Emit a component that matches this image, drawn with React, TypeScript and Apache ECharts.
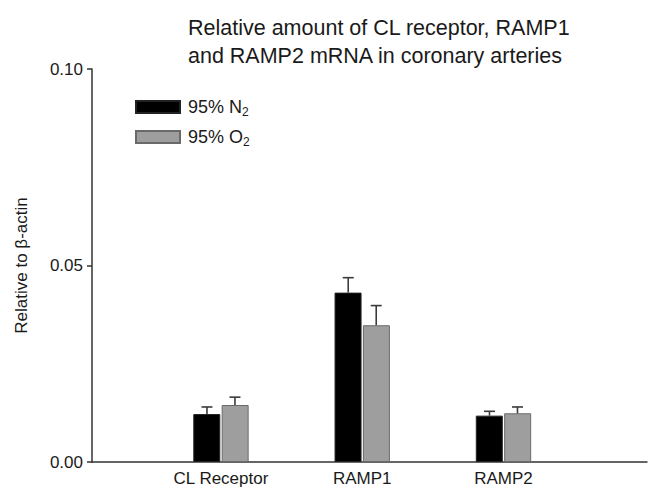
import React, { useEffect, useRef } from "react";
import * as echarts from "echarts";

const categories = ["CL Receptor", "RAMP1", "RAMP2"];
const categoryPositions = [1, 2, 3];
const n2Values = [0.0122, 0.0431, 0.0118];
const n2Errors = [0.0018, 0.0038, 0.0011];
const o2Values = [0.0145, 0.0348, 0.0124];
const o2Errors = [0.002, 0.005, 0.0016];
const yTicks = [0, 0.05, 0.1];
const seriesNames = ["95% N2", "95% O2"];
const titleText = "Relative amount of CL receptor, RAMP1\nand RAMP2 mRNA in coronary arteries";
const yAxisName = "Relative to β-actin";

const FONT = "'Liberation Sans', Arial, sans-serif";

export default function App() {
  const ref = useRef<HTMLDivElement>(null);
  useEffect(() => {
    document.body.style.margin = "0";
    if (!ref.current) return;
    const chart = echarts.init(ref.current, undefined, { renderer: "svg" });

    const errData = (vals: number[], errs: number[]) =>
      vals.map((v, i) => [categoryPositions[i], v, v + errs[i]]);

    const makeErr = (offset: number) => (params: any, api: any) => {
      const x = api.value(0);
      const lo = api.coord([x, api.value(1)]);
      const hi = api.coord([x, api.value(2)]);
      const cx = lo[0] + offset;
      const style = { stroke: "#3a3a3a", lineWidth: 1.6 };
      return {
        type: "group",
        children: [
          { type: "line", shape: { x1: cx, y1: lo[1], x2: cx, y2: hi[1] }, style },
          { type: "line", shape: { x1: cx - 5.5, y1: hi[1], x2: cx + 5.5, y2: hi[1] }, style },
        ],
      };
    };

    const sub = (name: string) => name.replace(/(\d)$/, "{sub|$1}");

    chart.setOption({
      animation: false,
      textStyle: { fontFamily: FONT },
      title: {
        text: titleText,
        left: 183,
        top: 9,
        textStyle: { fontFamily: FONT, fontSize: 21.5, fontWeight: "normal", color: "#1a1a1a", lineHeight: 28 },
      },
      legend: {
        orient: "vertical",
        left: 135,
        top: 96,
        padding: 0,
        itemWidth: 44,
        itemHeight: 12,
        itemGap: 8,
        icon: "rect",
        data: seriesNames,
        formatter: sub,
        textStyle: {
          fontFamily: FONT,
          fontSize: 18,
          lineHeight: 22,
          color: "#1a1a1a",
          padding: [0, 0, 0, 3],
          rich: { sub: { fontSize: 12, lineHeight: 12, verticalAlign: "bottom", fontFamily: FONT, color: "#1a1a1a" } },
        },
      },
      grid: { left: 92, right: 3, top: 69, bottom: 24, containLabel: false },
      xAxis: {
        type: "value",
        min: 0.087,
        max: 4.016,
        splitLine: { show: false },
        axisTick: { show: false },
        axisLine: { show: true, lineStyle: { color: "#333", width: 1.5 } },
        axisLabel: {
          customValues: categoryPositions,
          formatter: (v: number) => categories[Math.round(v) - 1] ?? "",
          fontFamily: FONT,
          fontSize: 17,
          color: "#1a1a1a",
          margin: 8,
        },
      },
      yAxis: {
        type: "value",
        min: 0,
        max: 0.1,
        interval: 0.05,
        name: yAxisName,
        nameLocation: "middle",
        nameGap: 62,
        nameTextStyle: { fontFamily: FONT, fontSize: 17, color: "#1a1a1a" },
        splitLine: { show: false },
        axisLine: { show: true, lineStyle: { color: "#333", width: 1.5 } },
        axisTick: { show: true, inside: false, length: 5, lineStyle: { color: "#333", width: 1.5 } },
        axisLabel: {
          customValues: yTicks,
          formatter: (v: number) => v.toFixed(2),
          fontFamily: FONT,
          fontSize: 17,
          color: "#1a1a1a",
          margin: 9,
        },
      },
      series: [
        {
          name: seriesNames[0],
          type: "bar",
          barWidth: 27,
          barGap: "5%",
          data: n2Values.map((v, i) => [categoryPositions[i], v]),
          itemStyle: { color: "#000000", borderColor: "#222", borderWidth: 1 },
        },
        {
          name: seriesNames[1],
          type: "bar",
          barWidth: 27,
          data: o2Values.map((v, i) => [categoryPositions[i], v]),
          itemStyle: { color: "#9e9e9e", borderColor: "#6a6a6a", borderWidth: 1 },
        },
        {
          type: "custom",
          renderItem: makeErr(-14),
          data: errData(n2Values, n2Errors),
          encode: { x: 0, y: [1, 2] },
          z: 5,
        },
        {
          type: "custom",
          renderItem: makeErr(14),
          data: errData(o2Values, o2Errors),
          encode: { x: 0, y: [1, 2] },
          z: 5,
        },
      ],
    });
    return () => chart.dispose();
  }, []);
  return <div ref={ref} style={{ width: 650, height: 487 }} />;
}
